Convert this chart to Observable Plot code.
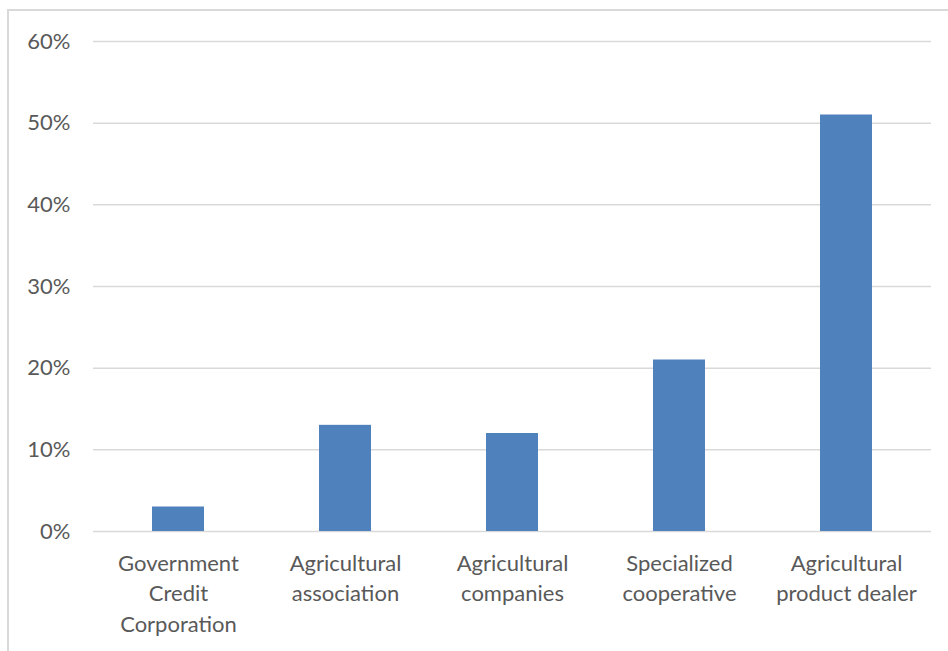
<!DOCTYPE html>
<html>
<head>
<meta charset="utf-8">
<script src="https://cdn.jsdelivr.net/npm/d3@7"></script>
<script src="https://cdn.jsdelivr.net/npm/@observablehq/plot@0.6"></script>
<style>
  html, body { margin: 0; padding: 0; background: #fff; overflow: hidden; }
  #wrap { position: relative; width: 948px; height: 651px; }
  #border { position: absolute; left: 7px; top: 9px; width: 960px; height: 700px; border: 2px solid #d9d9d9; box-sizing: border-box; }
  #chart { position: absolute; left: 0; top: 0; }
</style>
</head>
<body>
<div id="wrap"><div id="border"></div><div id="chart"></div></div>
<script>
const categories = ["Government Credit Corporation", "Agricultural association", "Agricultural companies", "Specialized cooperative", "Agricultural product dealer"];
const tickLabels = ["Government\nCredit\nCorporation", "Agricultural\nassociation", "Agricultural\ncompanies", "Specialized\ncooperative", "Agricultural\nproduct dealer"];
const shares = [0.03, 0.13, 0.12, 0.21, 0.51];
const yTicks = [0, 0.1, 0.2, 0.3, 0.4, 0.5, 0.6];

const data = categories.map((c, i) => ({category: c, value: shares[i]}));
const labelOf = new Map(categories.map((c, i) => [c, tickLabels[i]]));

const font = "Lato, 'Open Sans', sans-serif";
const chart = Plot.plot({
  width: 948,
  height: 651,
  marginLeft: 93,
  marginRight: 17,
  marginTop: 41,
  marginBottom: 120,
  style: {fontFamily: font, fontSize: "22px", color: "#595959", background: "transparent", overflow: "visible"},
  x: {domain: categories, paddingInner: 0.69, paddingOuter: 0.345, align: 0.5},
  y: {domain: [0, 0.6]},
  marks: [
    Plot.gridY(yTicks, {stroke: "#d9d9d9", strokeOpacity: 1, strokeWidth: 1.5}),
    Plot.barY(data, {x: "category", y: "value", fill: "#4f81bd"}),
    Plot.axisY(yTicks, {tickSize: 0, tickPadding: 23, tickFormat: d3.format(".0%"), label: null, fontSize: 22, fill: "#595959"}),
    Plot.axisX({tickSize: 0, tickPadding: 18, tickFormat: d => labelOf.get(d), label: null, fontSize: 22, lineHeight: 1.38, fill: "#595959"})
  ]
});
document.getElementById("chart").appendChild(chart);
</script>
</body>
</html>
